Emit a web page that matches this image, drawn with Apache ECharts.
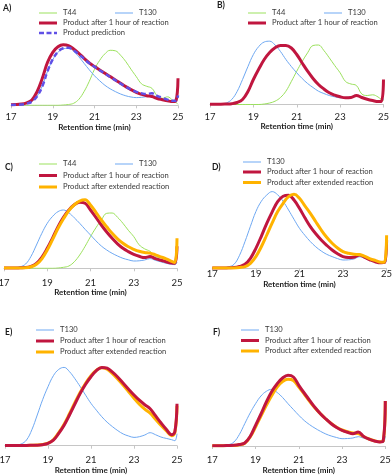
<!DOCTYPE html>
<html><head><meta charset="utf-8">
<script src="https://cdn.jsdelivr.net/npm/echarts@6/dist/echarts.min.js"></script>
<style>html,body{margin:0;padding:0;background:#fff}#c{width:392px;height:476px}</style>
</head><body><div id="c"></div>
<script>
// Retention time grid (min)
const times = [17, 17.5, 17.75, 18, 18.25, 18.5, 18.75, 19, 19.25, 19.5, 19.75, 20, 20.25, 20.5, 20.75, 21, 21.25, 21.5, 21.75, 22, 22.25, 22.5, 22.75, 23, 23.25, 23.5, 23.75, 24, 24.25, 24.5, 24.75, 24.9, 25];
const xTicks = [17, 19, 21, 23, 25];
const panelLabels = ['A)', 'B)', 'C)', 'D)', 'E)', 'F)'];
const axisTitle = 'Retention time (min)';
const nameT44 = 'T44', nameT130 = 'T130', nameHour = 'Product after 1 hour of reaction', nameExt = 'Product after extended reaction', namePred = 'Product prediction';

// Panel A
const A_T44  = [0,0,0,0,0,0,0,0,0, 0.3, 0.8, 2, 6, 13.7, 24, 36, 45, 51.5, 55, 54.5, 50, 43.7, 36, 28.7, 21.5, 19, 17, 9.5, 7, 8.5, 5, 3, 1];
const A_T130 = [0.3, 0.8, 1.7, 3.7, 9, 19.5, 34, 45.5, 53, 56.5, 57, 54, 48.5, 42, 35.5, 29.5, 24.5, 20, 16.5, 13.7, 11.3, 9.5, 8.3, 7.7, 8, 8.7, 9.7, 8.3, 6.5, 5, 3.8, 3.5, 8];
const A_hour = [0.5, 1.3, 2.5, 5.3, 13.7, 27, 43, 53, 58.5, 60.5, 59.7, 56.3, 52, 47, 42.5, 38.7, 35.3, 32, 28.7, 25.3, 22, 18.7, 15.7, 13, 11, 9.5, 8.8, 6.8, 5.6, 4.5, 3.7, 4.5, 27];
const A_pred = [0.3, 0.8, 1.7, 3.7, 9, 19, 34, 46, 53.5, 57, 57.5, 55, 51, 46.5, 42, 38.5, 35, 31.7, 28.3, 25, 21.7, 18.5, 15.8, 13.5, 12, 11.3, 12, 9.5, 7.5, 5.7, 4.5, 4.5, 10];
// Panel B
const B_T44  = [0,0,0,0,0,0,0,0,0, 0.5, 1.5, 3.3, 7, 13.3, 23, 33.3, 43, 51.7, 59, 59.5, 54, 46.7, 39, 31.7, 23, 20.5, 19, 10.5, 9, 9.7, 7.5, 5, 4];
const B_T130 = [0.3, 0.7, 1.5, 5, 13, 25, 38, 50, 58, 62.5, 63.3, 59.5, 53, 45, 38, 31.7, 26, 21, 17, 13.3, 11, 9, 7.7, 6.7, 7, 7.7, 9, 7.5, 5.5, 4, 3.3, 3, 6];
const B_hour = [0.3, 0.3, 0.5, 0.8, 2, 5, 13, 25, 35.5, 45, 52, 56.7, 59, 59, 56.5, 50, 41.5, 33.3, 26, 20, 15.5, 11.7, 9.3, 7.7, 6.8, 7, 9, 7, 5.3, 4, 3, 3, 25];
// Panel C
const C_T44  = [0,0,0,0,0,0,0,0,0, 0.3, 1, 2.3, 6.5, 13.3, 22, 31.7, 40.5, 48.3, 55, 55.3, 51, 45, 38, 31.7, 23.5, 19.5, 17, 12, 10.5, 9, 7.5, 6, 5];
const C_T130 = [0.3, 0.8, 1.5, 4.3, 12, 23.3, 35, 45, 52, 56.7, 58.3, 55.5, 50.5, 45, 39, 33.3, 27.5, 22.3, 18.3, 15, 12.3, 10, 8.5, 7.3, 7.5, 8.3, 9.7, 8, 6.5, 5, 4, 3.7, 6];
const C_hour = [0.3, 0.3, 0.5, 0.7, 2, 5, 11, 20, 30.5, 41.7, 51, 58.3, 63.5, 66, 65, 58.3, 51, 43.3, 36.3, 30, 24.5, 20, 16.7, 14, 12, 10.7, 11.7, 9.7, 8, 6.5, 5.3, 5, 22];
const C_ext  = [0.3, 0.3, 0.4, 0.5, 1.5, 4, 9.5, 18.3, 29, 40, 49.5, 57.7, 63.5, 67.3, 68.5, 63.3, 56, 48.3, 41.5, 35, 29.5, 25, 21.5, 19, 17, 15.7, 15.2, 13.5, 11.5, 9.5, 7, 5.8, 30];
// Panel D
const D_T130 = [0.3, 0.7, 1.5, 4, 13, 26.7, 42, 56.7, 67, 73.3, 76.7, 73.5, 67, 58.3, 49, 40, 33, 26.7, 21.5, 17.3, 14, 11.7, 9.7, 8.3, 8.5, 9.3, 11.5, 10, 8, 6.3, 5, 5, 8];
const D_hour = [0.3, 0.3, 0.5, 0.7, 1.8, 4, 10, 20, 32, 45, 56.5, 66.7, 72, 73, 68.3, 60, 50.5, 41.7, 34.5, 28.3, 23, 18.3, 14.5, 11.7, 10.8, 11, 13.3, 11, 8.3, 6.3, 5.5, 5.7, 28];
const D_ext  = [0.2, 0.2, 0.3, 0.4, 0.8, 1.7, 5, 11.7, 21.5, 33.3, 45.5, 56.7, 65, 71.7, 74, 70, 62.5, 55, 46.5, 38.3, 31, 25, 20.3, 16.7, 15, 14, 13.7, 12, 9.5, 7.7, 6, 6, 33];
// Panel E
const E_T130 = [0.3, 0.8, 1.7, 5.7, 16, 30.7, 46, 59, 70, 76.3, 78.3, 74, 67, 59, 50.5, 42.3, 35.5, 29, 23.5, 19, 15, 11.7, 9.7, 8.3, 9, 10.7, 13, 11, 8.7, 7.3, 6, 5, 12];
const E_hour = [0.3, 0.3, 0.3, 0.3, 0.4, 0.5, 1, 2.3, 5.5, 12.3, 20.5, 30.7, 41.5, 52.3, 61.5, 69, 75, 78.3, 77.5, 73.5, 68.5, 62.5, 56.5, 50.7, 45.5, 41, 37, 30, 23, 16.5, 11, 14, 42];
const E_ext  = [0.3, 0.3, 0.3, 0.3, 0.4, 0.6, 1.2, 2.5, 6, 13, 21.5, 32, 43, 53.5, 62.5, 70, 75.5, 78, 76.5, 72, 66.5, 60.5, 54, 47.5, 41.5, 36.5, 32.5, 26.5, 20.5, 15, 10, 13, 40];
// Panel F
const F_T130 = [0.3, 0.7, 1.3, 4, 11.5, 22.3, 33, 42.3, 50, 54.7, 56.7, 53.5, 48.5, 42.3, 36.5, 30.7, 25.5, 21.3, 17.8, 14.7, 12, 10, 8.5, 7.3, 7.5, 8, 9.3, 7.8, 6.5, 5, 4, 3.5, 10];
const F_hour = [0.3, 0.3, 0.5, 0.7, 1.5, 3, 9.5, 20.7, 32, 44, 54.5, 62.3, 68, 70.7, 69, 60.7, 53, 45.7, 38.5, 32.3, 27, 22.3, 18.5, 15.7, 13.7, 12.3, 14, 9.5, 6.8, 5, 4, 5, 45];
const F_ext  = [0.3, 0.3, 0.4, 0.6, 1.3, 2.7, 9, 19, 30, 40.7, 50.5, 59, 64.5, 66.7, 65.5, 59, 52, 44.7, 38, 32.3, 27, 22.5, 18.8, 16, 14.2, 13, 12.5, 9.5, 7, 5.2, 4.2, 5, 45];

// ---- styling / layout ----
const FONT = 'Lato';
const STY = {
  T44:  {color: '#9be15d', width: 1, type: 'solid'},
  T130: {color: '#6ea8f2', width: 1, type: 'solid'},
  hour: {color: '#c0163f', width: 3, type: 'solid'},
  ext:  {color: '#ffb300', width: 3, type: 'solid'},
  pred: {color: '#6050e6', width: 2.5, type: [5, 3]}
};
const NAMES = {T44: nameT44, T130: nameT130, hour: nameHour, ext: nameExt, pred: namePred};

const panels = [
  {grid: {left: 11, top: 25.3, width: 167, height: 80}, margin: 7, gap: 17, label: [3, 9],
   series: [['T44', A_T44], ['T130', A_T130], ['hour', A_hour], ['pred', A_pred]],
   legend: [['T44', 39, 13], ['T130', 115, 13], ['hour', 39, 23], ['pred', 39, 33]]},
  {grid: {left: 210, top: 24.5, width: 173.5, height: 80}, margin: 7.5, gap: 18, label: [217, 5.5],
   series: [['T44', B_T44], ['T130', B_T130], ['hour', B_hour]],
   legend: [['T44', 248, 13], ['T130', 324, 13], ['hour', 248, 23]]},
  {grid: {left: 4, top: 188.3, width: 173, height: 80}, margin: 9.5, gap: 20, label: [5, 167.5],
   series: [['T44', C_T44], ['T130', C_T130], ['hour', C_hour], ['ext', C_ext]],
   legend: [['T44', 39, 164], ['T130', 115, 164], ['hour', 39, 175.5], ['ext', 39, 187]]},
  {grid: {left: 212.3, top: 188.3, width: 174.3, height: 80}, margin: 1, gap: 12, label: [212, 167.5],
   series: [['T130', D_T130], ['hour', D_hour], ['ext', D_ext]],
   legend: [['T130', 243, 162], ['hour', 243, 172], ['ext', 243, 182.5]]},
  {grid: {left: 5, top: 365.7, width: 172, height: 80}, margin: 9.5, gap: 20.5, label: [5, 333],
   series: [['T130', E_T130], ['ext', E_ext], ['hour', E_hour]],
   legend: [['T130', 36, 330], ['hour', 36, 341], ['ext', 36, 352]]},
  {grid: {left: 212.3, top: 366, width: 173, height: 80}, margin: 9, gap: 20, label: [213, 333],
   series: [['T130', F_T130], ['ext', F_ext], ['hour', F_hour]],
   legend: [['T130', 241, 330], ['hour', 241, 340.5], ['ext', 241, 351]]}
];

const grid = [], xAxis = [], yAxis = [], series = [], legend = [], graphic = [];
panels.forEach((p, i) => {
  grid.push(Object.assign({containLabel: false, outerBoundsMode: 'none'}, p.grid));
  xAxis.push({
    type: 'value', gridIndex: i, min: xTicks[0], max: xTicks[xTicks.length - 1], interval: 2,
    splitLine: {show: false},
    axisLine: {show: true, lineStyle: {color: '#c6c6c6', width: 1}},
    axisTick: {show: true, length: 3, lineStyle: {color: '#c6c6c6'}},
    axisLabel: {margin: p.margin, fontFamily: FONT, fontSize: 9.5, color: '#1e1e1e'},
    name: axisTitle, nameLocation: 'middle', nameGap: p.gap,
    nameTextStyle: {fontFamily: FONT, fontSize: 8, fontWeight: 'bold', color: '#1e1e1e'}
  });
  yAxis.push({type: 'value', gridIndex: i, min: 0, max: 80, show: false});
  p.series.forEach(([key, arr]) => {
    const s = STY[key];
    series.push({
      type: 'line', name: NAMES[key], xAxisIndex: i, yAxisIndex: i,
      data: times.map((t, k) => [t, arr[k]]),
      symbol: 'none', showSymbol: false, smooth: 0.4, silent: true,
      lineStyle: {color: s.color, width: s.width, type: s.type},
      itemStyle: {color: s.color}
    });
  });
  p.legend.forEach(([key, x, y]) => {
    const s = STY[key];
    legend.push({
      data: [NAMES[key]], left: x, top: y - 5, padding: 0, itemWidth: 18, itemHeight: 10,
      selectedMode: false, orient: 'horizontal', icon: 'none',
      textStyle: {fontFamily: FONT, fontSize: 7.6, color: '#3a3a3a', padding: [0, 0, 0, 1]}
    });
    graphic.push({
      type: 'group', left: x, top: y - s.width / 2, silent: true,
      children: key === 'pred'
        ? [0, 7.5, 15].map(dx => ({type: 'rect', shape: {x: dx, y: 0, width: dx === 15 ? 3 : 5, height: s.width}, style: {fill: s.color}}))
        : [{type: 'rect', shape: {x: 0, y: 0, width: 18, height: s.width}, style: {fill: s.color}}]
    });
  });
  graphic.push({type: 'text', left: p.label[0], top: p.label[1] - 5,
    style: {text: panelLabels[i], font: 'bold 8.5px ' + FONT, fill: '#1a1a1a'}});
});

const chart = echarts.init(document.getElementById('c'), null, {renderer: 'canvas'});
chart.setOption({animation: false, backgroundColor: '#fff', grid, xAxis, yAxis, series, legend, graphic});
</script></body></html>
